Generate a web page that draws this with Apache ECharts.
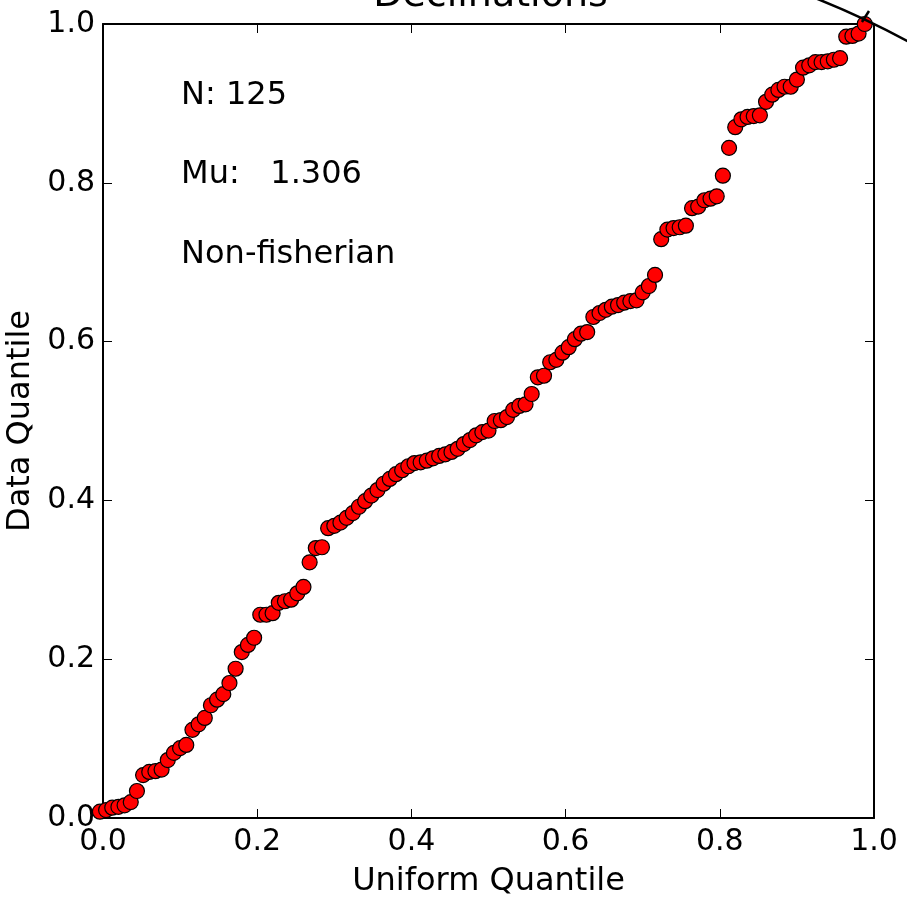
<!DOCTYPE html>
<html>
<head>
<meta charset="utf-8">
<script src="https://cdn.jsdelivr.net/npm/echarts@6/dist/echarts.min.js"></script>
<style>html,body{margin:0;padding:0;background:#fff;}#c{width:907px;height:898px;}</style>
</head>
<body>
<div id="c"></div>
<script>
const uniformQuantile = [-0.004,0.004,0.012,0.020,0.028,0.036,0.044,0.052,0.060,0.068,
0.076,0.084,0.092,0.100,0.108,0.116,0.124,0.132,0.140,0.148,
0.156,0.164,0.172,0.180,0.188,0.196,0.204,0.212,0.220,0.228,
0.236,0.244,0.252,0.260,0.268,0.276,0.284,0.292,0.300,0.308,
0.316,0.324,0.332,0.340,0.348,0.356,0.364,0.372,0.380,0.388,
0.396,0.404,0.412,0.420,0.428,0.436,0.444,0.452,0.460,0.468,
0.476,0.484,0.492,0.500,0.508,0.516,0.524,0.532,0.540,0.548,
0.556,0.564,0.572,0.580,0.588,0.596,0.604,0.612,0.620,0.628,
0.636,0.644,0.652,0.660,0.668,0.676,0.684,0.692,0.700,0.708,
0.716,0.724,0.732,0.740,0.748,0.756,0.764,0.772,0.780,0.788,
0.796,0.804,0.812,0.820,0.828,0.836,0.844,0.852,0.860,0.868,
0.876,0.884,0.892,0.900,0.908,0.916,0.924,0.932,0.940,0.948,
0.956,0.964,0.972,0.980,0.988];
const dataQuantile = [0.008,0.010,0.013,0.014,0.016,0.020,0.034,0.054,0.058,0.059,
0.061,0.073,0.082,0.088,0.092,0.111,0.118,0.126,0.142,0.149,
0.156,0.170,0.188,0.209,0.218,0.227,0.256,0.256,0.258,0.271,
0.273,0.275,0.283,0.291,0.322,0.340,0.341,0.365,0.368,0.372,
0.378,0.384,0.392,0.399,0.406,0.413,0.421,0.427,0.433,0.438,
0.443,0.447,0.448,0.450,0.453,0.456,0.458,0.461,0.465,0.471,
0.476,0.482,0.486,0.488,0.500,0.501,0.505,0.514,0.519,0.521,
0.534,0.555,0.557,0.574,0.577,0.586,0.593,0.603,0.610,0.612,
0.631,0.636,0.640,0.644,0.646,0.649,0.651,0.652,0.662,0.670,
0.684,0.729,0.741,0.743,0.744,0.746,0.768,0.770,0.778,0.780,
0.783,0.809,0.844,0.870,0.880,0.883,0.884,0.885,0.902,0.911,
0.917,0.921,0.921,0.930,0.945,0.948,0.952,0.952,0.953,0.955,
0.957,0.984,0.985,0.988,1.000];
const tickValues = [0, 0.2, 0.4, 0.6, 0.8, 1.0];
const tickLabels = ['0.0','0.2','0.4','0.6','0.8','1.0'];
const titleText = 'Declinations';
const xName = 'Uniform Quantile';
const yName = 'Data Quantile';
const notes = [
  {text: 'N: 125', x: 0.1, y: 0.9},
  {text: 'Mu:   1.306', x: 0.1, y: 0.8},
  {text: 'Non-fisherian', x: 0.1, y: 0.7}
];
const arcCenter = [0.5, 0.0];
const arcThrough = [1.0, 1.0];
const strokeFrom = [0.9844, 1.0025];
const strokeTo = [0.9935, 1.0164];

const FONT = 'DejaVu Sans';
const chart = echarts.init(document.getElementById('c'), null, {renderer: 'canvas'});

function fmt(v) {
  const k = tickValues.findIndex(t => Math.abs(t - v) < 1e-9);
  return k >= 0 ? tickLabels[k] : '';
}
function axisBase(showLabel, pos) {
  return {
    type: 'value', min: 0, max: 1, interval: 0.2, position: pos,
    axisLine: {show: true, onZero: false, lineStyle: {color: '#000', width: 2}},
    axisTick: {show: true, inside: true, length: 9, lineStyle: {color: '#000', width: 1}},
    splitLine: {show: false},
    axisLabel: {show: showLabel, formatter: fmt, color: '#000', fontFamily: FONT, fontSize: 30,
      showMinLabel: true, showMaxLabel: true, margin: 9}
  };
}
const pts = uniformQuantile.map((x, i) => [x, dataQuantile[i]]);

const xb = axisBase(true, 'bottom');
xb.name = xName; xb.nameLocation = 'middle'; xb.nameGap = 48;
xb.nameTextStyle = {color: '#000', fontFamily: FONT, fontSize: 32};
const yl = axisBase(true, 'left');
yl.axisLabel.margin = 8;
yl.name = yName; yl.nameLocation = 'middle'; yl.nameGap = 61;
yl.nameTextStyle = {color: '#000', fontFamily: FONT, fontSize: 32};

chart.setOption({
  animation: false,
  backgroundColor: '#fff',
  grid: {left: 103, right: 33, top: 24, bottom: 80, containLabel: false, outerBoundsMode: 'none'},
  xAxis: [xb, axisBase(false, 'top')],
  yAxis: [yl, axisBase(false, 'right')],
  series: [{
    type: 'scatter', xAxisIndex: 0, yAxisIndex: 0, data: pts, symbol: 'circle', symbolSize: 15,
    clip: false, z: 10,
    itemStyle: {color: '#ff0000', borderColor: '#000', borderWidth: 1.2, opacity: 1}
  }]
});

const c0 = chart.convertToPixel({gridIndex: 0}, arcCenter);
const c1 = chart.convertToPixel({gridIndex: 0}, arcThrough);
const r = Math.hypot(c1[0] - c0[0], c1[1] - c0[1]);
const gl = chart.convertToPixel({gridIndex: 0}, [0.5, 1]);
const s0 = chart.convertToPixel({gridIndex: 0}, strokeFrom);
const s1 = chart.convertToPixel({gridIndex: 0}, strokeTo);
const graphics = [
  {type: 'text', x: gl[0] + 2, y: gl[1] - 9, z: 20,
   style: {text: titleText, fill: '#000', font: '38px "' + FONT + '"', textAlign: 'center', textVerticalAlign: 'bottom'}},
  {type: 'arc', z: 20, shape: {cx: c0[0], cy: c0[1], r: r, startAngle: -1.2, endAngle: -1.0, clockwise: true},
   style: {stroke: '#000', lineWidth: 2.5, fill: null}},
  {type: 'line', z: 20, shape: {x1: s0[0], y1: s0[1], x2: s1[0], y2: s1[1]},
   style: {stroke: '#000', lineWidth: 2.5}}
];
notes.forEach(n => {
  const p = chart.convertToPixel({gridIndex: 0}, [n.x, n.y]);
  graphics.push({type: 'text', x: p[0] + 1, y: p[1] + 8, z: 20,
    style: {text: n.text, fill: '#000', font: '32px "' + FONT + '"', textAlign: 'left', textVerticalAlign: 'bottom'}});
});
chart.setOption({graphic: graphics});
</script>
</body>
</html>
